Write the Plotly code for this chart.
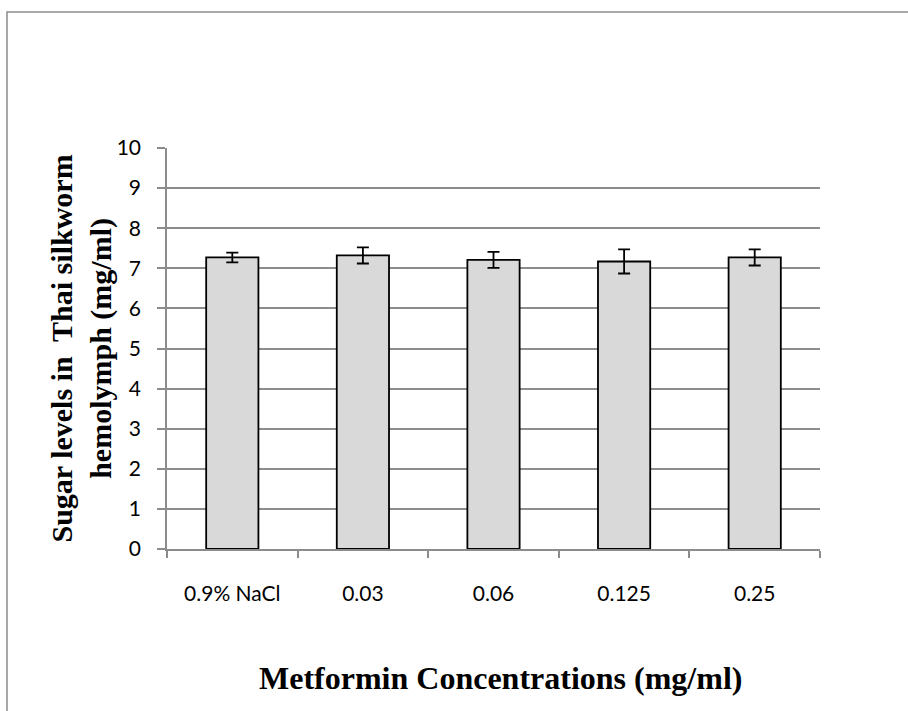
import plotly.graph_objects as go

categories = ["0.9% NaCl", "0.03", "0.06", "0.125", "0.25"]
sugar_levels = [7.27, 7.32, 7.21, 7.17, 7.27]
errors = [0.12, 0.20, 0.20, 0.30, 0.20]
y_ticks = list(range(0, 11))

W, H = 908, 711
L, R, T, B = 167, 820, 148, 549
pw, ph = R - L, B - T

def px_x(p):
    return (p - L) / pw

def px_y(p):
    return (B - p) / ph

grid = "#8c8c8c"

fig = go.Figure()
fig.add_trace(go.Bar(
    x=categories, y=sugar_levels,
    marker=dict(color="#d9d9d9", line=dict(color="black", width=1.8)),
    error_y=dict(type="data", array=errors, visible=True, color="black",
                 thickness=1.8, width=6),
))

fig.update_layout(
    width=W, height=H,
    margin=dict(l=L, r=W - R, t=T, b=H - B),
    paper_bgcolor="white", plot_bgcolor="white",
    showlegend=False,
    bargap=0.6,
    font=dict(family="Lato", size=21, color="black"),
    xaxis=dict(
        type="category", tickson="boundaries", ticks="outside", ticklen=7,
        tickcolor=grid, tickwidth=1.5, showline=True, linecolor=grid,
        linewidth=1.5, showgrid=False, ticklabelstandoff=25,
        tickfont=dict(family="Lato", size=21, color="black"),
    ),
    yaxis=dict(
        range=[0, 10], tickvals=y_ticks, ticks="outside", ticklen=8,
        tickcolor=grid, tickwidth=1.5, showline=True, linecolor=grid,
        linewidth=1.5, showgrid=True, gridcolor=grid, gridwidth=1.5,
        zeroline=False, ticklabelstandoff=12,
        tickfont=dict(family="Lato", size=21, color="black"),
    ),
    shapes=[dict(
        type="rect", xref="paper", yref="paper",
        x0=px_x(7), x1=px_x(930), y0=px_y(740), y1=px_y(12),
        line=dict(color="#8c8c8c", width=1.5), fillcolor="rgba(0,0,0,0)",
        layer="below",
    )],
    annotations=[
        dict(text="<b>Sugar levels in\u00a0 Thai silkworm<br>hemolymph (mg/ml)</b>",
             xref="paper", yref="paper", x=px_x(81), y=0.5,
             xanchor="center", yanchor="middle", textangle=-90,
             showarrow=False,
             font=dict(family="Liberation Serif", size=30, color="black")),
        dict(text="<b>Metformin Concentrations (mg/ml)</b>",
             xref="paper", yref="paper", x=px_x(500), y=px_y(678),
             xanchor="center", yanchor="middle", showarrow=False,
             font=dict(family="Liberation Serif", size=32, color="black")),
    ],
)

fig.write_html("out.html")
